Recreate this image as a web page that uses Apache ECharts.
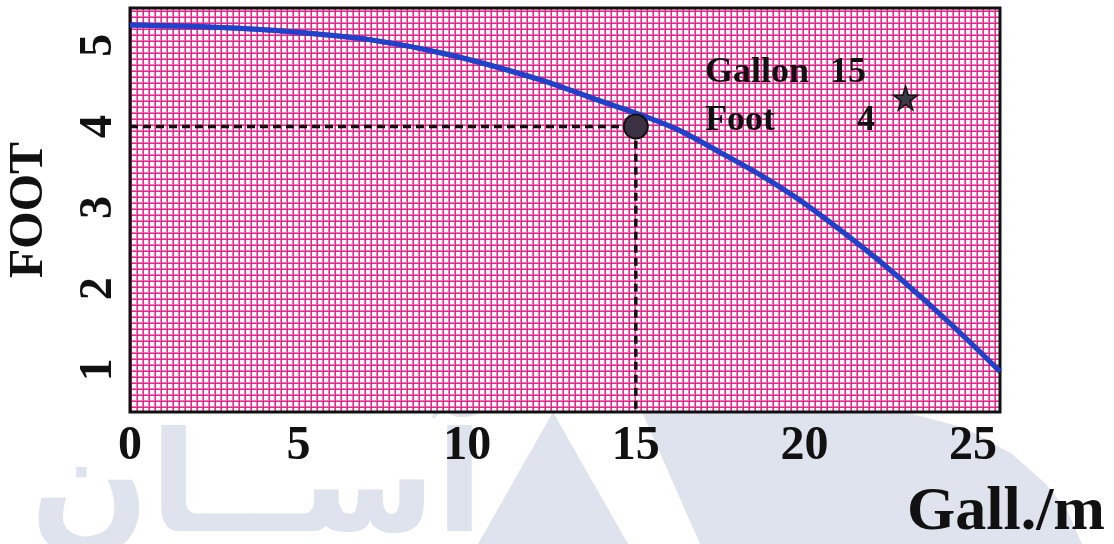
<!DOCTYPE html>
<html>
<head>
<meta charset="utf-8">
<script src="https://cdn.jsdelivr.net/npm/echarts@6/dist/echarts.min.js"></script>
<style>
  html, body { margin: 0; padding: 0; background: #fff; }
  #chart { width: 1114px; height: 544px; }
</style>
</head>
<body>
<div id="chart"></div>
<script>
// pump curve
var gallons = [0, 2.7, 4.7, 7.1, 9.5, 12.2, 13.9, 15.1, 16.3, 17.5, 18.7, 19.9, 21.6, 22.8, 24.3, 25.8];
var foot = [5.25, 5.22, 5.17, 5.07, 4.88, 4.57, 4.32, 4.15, 3.95, 3.68, 3.40, 3.08, 2.55, 2.14, 1.58, 0.98];
var xTicks = [0, 5, 10, 15, 20, 25];
var yTicks = [1, 2, 3, 4, 5];
var opGallon = 15;
var opFoot = 4;
var starPoint = [23.0, 4.35];

var xMin = 0, xMax = 25.8;
var yMin = 0.48, yMax = 5.46;

// pink graph-paper mesh
function meshPattern() {
  var c = document.createElement('canvas');
  c.width = 6; c.height = 6;
  var g = c.getContext('2d');
  g.fillStyle = '#ffffff';
  g.fillRect(0, 0, 6, 6);
  g.fillStyle = '#f27ab8';
  g.fillRect(0, 4, 6, 1);
  g.fillRect(4, 0, 1, 6);
  g.fillStyle = '#e8298f';
  g.fillRect(0, 5, 6, 1);
  g.fillRect(5, 0, 1, 6);
  g.fillStyle = '#c0207e';
  g.fillRect(5, 5, 1, 1);
  return { image: c, repeat: 'repeat' };
}

var serif = '"Liberation Serif", "DejaVu Serif", serif';
var wm = '#dfe3ee';

var chart = echarts.init(document.getElementById('chart'));

var option = {
  backgroundColor: '#fff',
  animation: false,
  grid: {
    left: 130, right: 114, top: 8, bottom: 132,
    containLabel: false,
    outerBoundsMode: 'none',
    show: true,
    backgroundColor: meshPattern(),
    borderColor: '#111',
    borderWidth: 3
  },
  xAxis: {
    type: 'value',
    min: xMin, max: xMax, interval: 5,
    name: 'Gall./m',
    nameLocation: 'end',
    nameGap: 105,
    nameTextStyle: {
      fontFamily: serif, fontWeight: 'bold', fontSize: 62, color: '#111',
      align: 'right', verticalAlign: 'top', padding: [70, 0, 0, 0]
    },
    axisLine: { show: false },
    axisTick: { show: false },
    splitLine: { show: false },
    axisLabel: {
      customValues: xTicks,
      margin: 11,
      fontFamily: serif, fontWeight: 'bold', fontSize: 48, color: '#111'
    }
  },
  yAxis: {
    type: 'value',
    min: yMin, max: yMax,
    name: 'FOOT',
    nameLocation: 'middle',
    nameRotate: 90,
    nameGap: 76,
    nameTextStyle: { fontFamily: serif, fontWeight: 'bold', fontSize: 48, color: '#111' },
    axisLine: { show: false },
    axisTick: { show: false },
    splitLine: { show: false },
    axisLabel: {
      customValues: yTicks,
      rotate: 90,
      margin: 8,
      fontFamily: serif, fontWeight: 'bold', fontSize: 46, color: '#111'
    }
  },
  graphic: [
    { type: 'polygon', z: -10, silent: true,
      shape: { points: [[553, 412], [478, 544], [628, 544]] },
      style: { fill: wm } },
    { type: 'polygon', z: -10, silent: true,
      shape: { points: [[642, 412], [905, 412], [965, 428], [1012, 454], [1046, 484], [1068, 512], [1082, 544], [700, 544]] },
      style: { fill: wm } },
    { type: 'text', z: -10, silent: true, left: 30, top: 425,
      style: { text: 'آســان', fill: wm, font: 'bold 140px "DejaVu Sans"' } },
    { type: 'text', left: 705, top: 55,
      style: { text: 'Gallon', fill: '#111', font: 'bold 36px ' + serif } },
    { type: 'text', left: 830, top: 55,
      style: { text: String(opGallon), fill: '#111', font: 'bold 36px ' + serif } },
    { type: 'text', left: 705, top: 103,
      style: { text: 'Foot', fill: '#111', font: 'bold 36px ' + serif } },
    { type: 'text', left: 857, top: 103,
      style: { text: String(opFoot), fill: '#111', font: 'bold 36px ' + serif } }
  ],
  series: [
    {
      type: 'line',
      data: [[xMin, opFoot], [opGallon, opFoot], [opGallon, yMin]],
      showSymbol: false,
      lineStyle: { color: '#111', width: 3.5, type: [8, 5] },
      z: 2
    },
    {
      type: 'line',
      data: gallons.map(function (g, i) { return [g, foot[i]]; }),
      smooth: 0.3,
      showSymbol: false,
      lineStyle: { color: '#1f42cc', width: 5, shadowColor: 'rgba(10,20,90,0.6)', shadowBlur: 1 },
      z: 3
    },
    {
      type: 'scatter',
      data: [[opGallon, opFoot]],
      symbolSize: 24,
      itemStyle: { color: '#3a3242', borderColor: '#111', borderWidth: 2, opacity: 1 },
      z: 4
    },
    {
      type: 'scatter',
      data: [starPoint],
      symbol: 'path://M50,0 L61,35 L98,35 L68,57 L79,91 L50,70 L21,91 L32,57 L2,35 L39,35 Z',
      symbolSize: 24,
      itemStyle: { color: '#3a3a42', borderColor: '#111', borderWidth: 1.5, opacity: 1 },
      z: 4
    }
  ]
};

chart.setOption(option);
</script>
</body>
</html>
